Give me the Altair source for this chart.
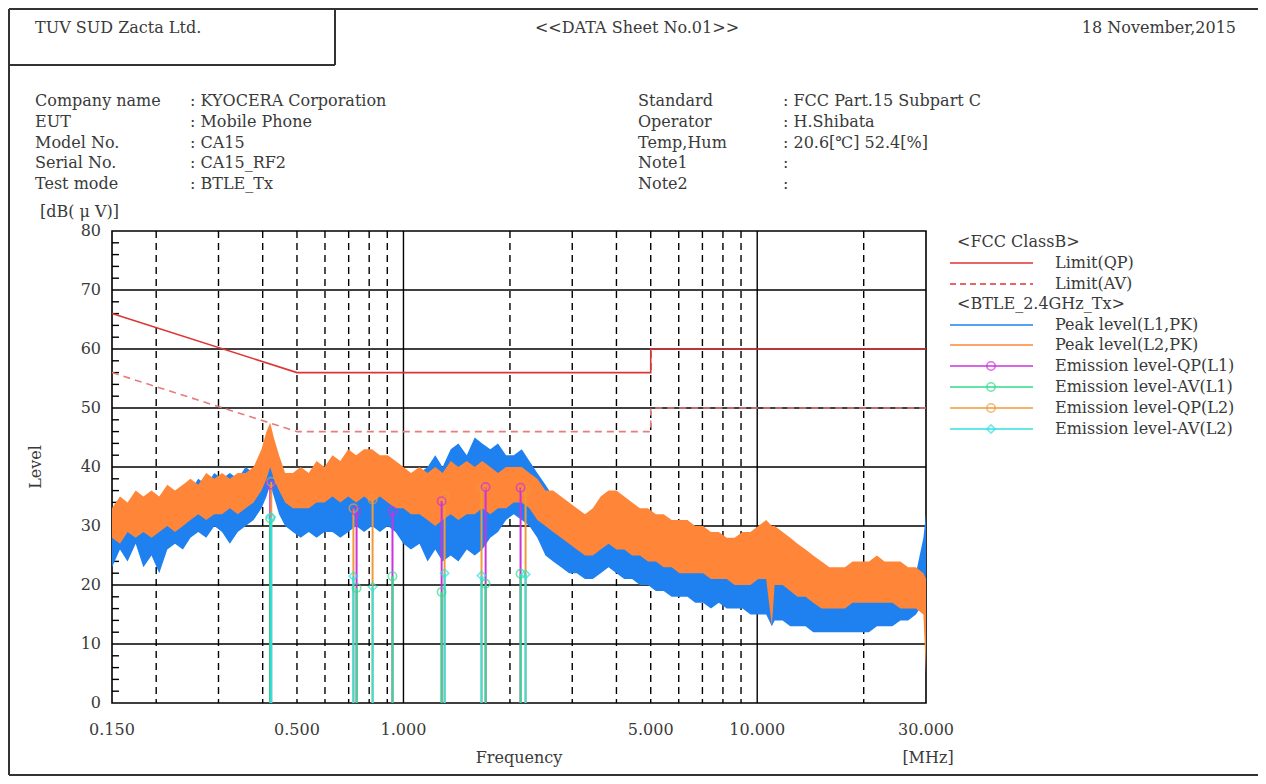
import altair as alt
import pandas as pd

# ---------------- data ----------------
FREQ = [0.150, 0.158, 0.166, 0.175, 0.184, 0.194, 0.204, 0.215, 0.226, 0.238,
        0.250, 0.263, 0.277, 0.292, 0.307, 0.323, 0.340, 0.358, 0.377, 0.397,
        0.410, 0.420, 0.430, 0.445, 0.463, 0.487, 0.512, 0.540, 0.568, 0.598,
        0.630, 0.663, 0.698, 0.735, 0.774, 0.815, 0.858, 0.903, 0.950, 1.00,
        1.05, 1.11, 1.17, 1.23, 1.29, 1.36, 1.43, 1.51, 1.59, 1.67,
        1.76, 1.85, 1.95, 2.05, 2.16, 2.27, 2.39, 2.52, 2.65, 2.79,
        2.94, 3.09, 3.26, 3.43, 3.61, 3.80, 4.00, 4.21, 4.43, 4.66,
        4.91, 5.17, 5.44, 5.73, 6.03, 6.35, 6.68, 7.03, 7.40, 7.79,
        8.20, 8.63, 9.09, 9.57, 10.07, 10.6, 11.0, 11.2, 11.8, 12.4,
        13.0, 13.7, 14.4, 15.2, 16.0, 16.8, 17.7, 18.6, 19.6, 20.7,
        21.8, 22.9, 24.1, 25.4, 26.7, 28.1, 29.5, 30.0]

L1_LOW = [23, 26, 24, 27, 23, 25, 22, 26, 27, 26,
          28, 29, 28, 30, 29, 27, 29, 30, 31, 33,
          35, 37, 35, 32, 30, 29, 28, 29, 28, 29,
          29, 28, 29, 30, 29, 30, 29, 30, 29, 27,
          26, 27, 24, 26, 24, 25, 24, 26, 25, 26,
          28, 29, 31, 32, 31, 30, 28, 25, 24, 23,
          22, 22, 21, 21, 22, 23, 22, 21, 21, 20,
          20, 19, 19, 18, 18, 18, 17, 17, 16, 17,
          16, 16, 16, 15, 15, 15, 13, 14, 14, 13,
          13, 13, 12, 12, 12, 12, 12, 12, 12, 12,
          13, 13, 13, 14, 14, 15, 17, 20]
L1_HIGH = [33, 34, 33, 35, 34, 35, 34, 36, 35, 37,
           36, 38, 37, 39, 38, 39, 38, 40, 39, 41,
           42, 43, 42, 40, 38, 37, 36, 37, 36, 37,
           38, 37, 38, 39, 38, 39, 38, 39, 38, 37,
           38, 39, 40, 42, 40, 43, 44, 42, 45, 44,
           43, 44, 42, 42, 43, 41, 39, 37, 35, 33,
           31, 29, 28, 28, 29, 30, 29, 28, 28, 27,
           27, 26, 26, 25, 25, 24, 24, 24, 23, 24,
           23, 23, 23, 22, 22, 22, 20, 21, 21, 20,
           20, 19, 19, 18, 18, 18, 18, 18, 18, 18,
           18, 18, 19, 19, 19, 22, 28, 32]
L2_LOW = [28, 27, 29, 28, 29, 28, 29, 30, 29, 30,
          31, 32, 31, 32, 32, 33, 32, 33, 34, 36,
          38, 40, 38, 36, 34, 33, 33, 33, 34, 34,
          35, 34, 35, 34, 35, 34, 35, 34, 33, 33,
          32, 32, 31, 30, 31, 32, 31, 32, 32, 33,
          32, 33, 33, 34, 34, 33, 31, 30, 29, 28,
          27, 26, 25, 25, 26, 27, 26, 26, 25, 25,
          24, 24, 23, 23, 22, 22, 22, 22, 21, 21,
          21, 20, 20, 20, 21, 21, 13, 20, 20, 19,
          18, 18, 17, 16, 16, 16, 16, 17, 17, 17,
          17, 17, 17, 16, 16, 16, 15, 5]
L2_HIGH = [33, 35, 34, 36, 35, 36, 35, 37, 36, 37,
           38, 37, 39, 38, 39, 38, 39, 39, 40, 43,
           46, 47.5, 45, 42, 39, 39, 40, 39, 41, 40,
           42, 41, 43, 42, 43, 43, 42, 42, 41, 40,
           39, 40, 39, 40, 39, 41, 40, 41, 40, 41,
           40, 39, 40, 40, 40, 39, 38, 36, 36, 35,
           34, 33, 32, 33, 35, 36, 36, 35, 34, 33,
           33, 32, 32, 31, 31, 31, 30, 30, 29, 29,
           28, 28, 29, 29, 30, 31, 30, 30, 29, 28,
           27, 26, 25, 24, 23, 23, 23, 24, 24, 24,
           25, 24, 24, 24, 23, 23, 22, 21]

LIMIT_F = [0.15, 0.5, 5.0, 5.0, 30.0]
LIMIT_QP = [66, 56, 56, 60, 60]
LIMIT_AV = [56, 46, 46, 50, 50]

QP_L1_F = [0.420, 0.737, 0.931, 1.282, 1.707, 2.143]
QP_L1_V = [37.0, 32.5, 32.5, 34.2, 36.6, 36.5]
AV_L1_F = [0.420, 0.737, 0.931, 1.282, 1.707, 2.143]
AV_L1_V = [31.3, 19.5, 21.5, 18.8, 20.2, 21.9]
QP_L2_F = [0.423, 0.722, 0.818, 1.307, 1.662, 2.214]
QP_L2_V = [37.5, 33.0, 34.5, 35.0, 36.5, 36.0]
AV_L2_F = [0.423, 0.722, 0.818, 1.307, 1.662, 2.214]
AV_L2_V = [31.5, 21.5, 19.7, 22.0, 21.6, 21.8]

X_TICKS = [0.15, 0.5, 1.0, 5.0, 10.0, 30.0]
X_TICK_LABELS = ["0.150", "0.500", "1.000", "5.000", "10.000", "30.000"]
Y_TICKS = [0, 10, 20, 30, 40, 50, 60, 70, 80]
GRID_SOLID_X = [1.0, 10.0]
GRID_DASH_X = [0.2, 0.3, 0.4, 0.5, 0.6, 0.7, 0.8, 0.9,
               2.0, 3.0, 4.0, 5.0, 6.0, 7.0, 8.0, 9.0, 20.0]
GRID_Y = [10, 20, 30, 40, 50, 60, 70]
Y_MINOR = [2, 4, 6, 8, 12, 14, 16, 18, 22, 24, 26, 28, 32, 34, 36, 38,
           42, 44, 46, 48, 52, 54, 56, 58, 62, 64, 66, 68, 72, 74, 76, 78]

INFO_LEFT = [("Company name", ": KYOCERA Corporation"),
             ("EUT", ": Mobile Phone"),
             ("Model No.", ": CA15"),
             ("Serial No.", ": CA15_RF2"),
             ("Test mode", ": BTLE_Tx")]
INFO_RIGHT = [("Standard", ": FCC Part.15 Subpart C"),
              ("Operator", ": H.Shibata"),
              ("Temp,Hum", ": 20.6[\u2103] 52.4[%]"),
              ("Note1", ":"),
              ("Note2", ":")]

# ---------------- styles ----------------
SERIF = "DejaVu Serif"
TXT = "#3a3a3a"
BLUE = "#1f80f0"
ORANGE = "#ff8638"
RED = "#dc3535"
RED_DASH = "#e87c7c"
MAGENTA = "#cc33dd"
GREEN = "#2edd88"
ORANGE_Q = "#f09a3a"
CYAN = "#33e0e0"

X0, Y0 = 112, 231          # page position of the plot origin
W, H = 814, 472

xs = alt.Scale(type="log", domain=[0.15, 30], nice=False)
ys = alt.Scale(domain=[0, 80], nice=False, zero=False)


def X(field):
    return alt.X(field, type="quantitative", scale=xs, axis=None)


def Y(field):
    return alt.Y(field, type="quantitative", scale=ys, axis=None)


ONE = alt.Data(values=[{"a": 1}])


def label(txt, px, py, size=16, align="left", angle=0, color=TXT):
    kw = dict(text=txt, align=align, baseline="middle", fontSize=size,
              font=SERIF, color=color)
    if angle:
        kw["angle"] = angle
    return alt.Chart(ONE).mark_text(**kw).encode(
        x=alt.value(px - X0), y=alt.value(py - Y0))


def hline(px1, px2, py, color="#333", width=2.0, dash=None):
    kw = dict(color=color, strokeWidth=width)
    if dash:
        kw["strokeDash"] = dash
    return alt.Chart(ONE).mark_rule(**kw).encode(
        x=alt.value(px1 - X0), x2=alt.value(px2 - X0), y=alt.value(py - Y0))


def vline(px, py1, py2, color="#333", width=2.0):
    return alt.Chart(ONE).mark_rule(color=color, strokeWidth=width).encode(
        x=alt.value(px - X0), y=alt.value(py1 - Y0), y2=alt.value(py2 - Y0))


def marker(px, py, color, shape="circle"):
    return alt.Chart(ONE).mark_point(shape=shape, filled=False, size=70,
                                     strokeWidth=1.6, color=color).encode(
        x=alt.value(px - X0), y=alt.value(py - Y0))


layers = []

# grid
layers.append(alt.Chart(pd.DataFrame({"f": GRID_DASH_X})).mark_rule(
    color="black", strokeWidth=1.4, strokeDash=[7, 5]).encode(x=X("f")))
layers.append(alt.Chart(pd.DataFrame({"f": GRID_SOLID_X})).mark_rule(
    color="black", strokeWidth=1.4).encode(x=X("f")))
layers.append(alt.Chart(pd.DataFrame({"v": GRID_Y})).mark_rule(
    color="black", strokeWidth=1.4).encode(y=Y("v")))
layers.append(alt.Chart(pd.DataFrame({"v": Y_MINOR})).mark_rule(
    color="black", strokeWidth=1.4).encode(
    y=Y("v"), x=alt.value(0), x2=alt.value(7)))

# spectra
spec = pd.DataFrame({"f": FREQ, "lo1": L1_LOW, "hi1": L1_HIGH,
                     "lo2": L2_LOW, "hi2": L2_HIGH})
layers.append(alt.Chart(spec).mark_area(color=BLUE, opacity=1).encode(
    x=X("f"), y=Y("lo1"), y2="hi1"))
layers.append(alt.Chart(spec).mark_area(color=ORANGE, opacity=1).encode(
    x=X("f"), y=Y("lo2"), y2="hi2"))

# limits
lim = pd.DataFrame({"f": LIMIT_F, "qp": LIMIT_QP, "av": LIMIT_AV,
                    "i": list(range(len(LIMIT_F)))})
layers.append(alt.Chart(lim).mark_line(color=RED, strokeWidth=1.6).encode(
    x=X("f"), y=Y("qp"), order="i:O"))
layers.append(alt.Chart(lim).mark_line(color=RED_DASH, strokeWidth=1.6,
                                       strokeDash=[7, 5]).encode(
    x=X("f"), y=Y("av"), order="i:O"))

# emission markers
def emis(fs, vs):
    return pd.DataFrame({"f": fs, "v": vs, "z": [0] * len(fs)})


for fs, vs, col in [(QP_L1_F, QP_L1_V, MAGENTA), (QP_L2_F, QP_L2_V, ORANGE_Q)]:
    layers.append(alt.Chart(emis(fs, vs)).mark_rule(color=col, strokeWidth=2).encode(
        x=X("f"), y=Y("v"), y2="z"))
for fs, vs, col in [(AV_L1_F, AV_L1_V, GREEN), (AV_L2_F, AV_L2_V, CYAN)]:
    layers.append(alt.Chart(emis(fs, vs)).mark_rule(color=col, strokeWidth=2).encode(
        x=X("f"), y=Y("v"), y2="z"))
for fs, vs, col, shp in [(QP_L2_F, QP_L2_V, ORANGE_Q, "circle"),
                         (QP_L1_F, QP_L1_V, MAGENTA, "circle"),
                         (AV_L1_F, AV_L1_V, GREEN, "circle"),
                         (AV_L2_F, AV_L2_V, CYAN, "diamond")]:
    layers.append(alt.Chart(emis(fs, vs)).mark_point(
        shape=shp, filled=False, size=70, strokeWidth=1.6, color=col).encode(
        x=X("f"), y=Y("v")))

# axis tick labels
layers.append(alt.Chart(pd.DataFrame({"f": X_TICKS, "t": X_TICK_LABELS})).mark_text(
    font=SERIF, fontSize=16, color=TXT, baseline="middle", align="center").encode(
    x=X("f"), y=alt.value(730 - Y0), text="t:N"))
layers.append(alt.Chart(pd.DataFrame({"v": Y_TICKS, "t": [str(v) for v in Y_TICKS]})).mark_text(
    font=SERIF, fontSize=16, color=TXT, baseline="middle", align="right").encode(
    y=Y("v"), x=alt.value(101 - X0), text="t:N"))

# axis titles
layers.append(label("Frequency", 519, 758, align="center"))
layers.append(label("[MHz]", 928, 758, align="center"))
layers.append(label("Level", 36, 467, align="center", angle=270))
layers.append(label("[dB( \u03bc V)]", 40, 212))

# page frame and header box
layers.append(hline(9, 1258, 9))
layers.append(vline(9, 9, 775))
layers.append(hline(9, 1258, 775))
layers.append(vline(335, 9, 65))
layers.append(hline(9, 335, 65))

layers.append(label("TUV SUD Zacta Ltd.", 35, 28))
layers.append(label("<<DATA Sheet No.01>>", 637, 28, align="center"))
layers.append(label("18 November,2015", 1236, 28, align="right"))

ROW_Y = [101, 122, 143, 163, 184]
for (k, v), y in zip(INFO_LEFT, ROW_Y):
    layers.append(label(k, 35, y))
    layers.append(label(v, 190, y))
for (k, v), y in zip(INFO_RIGHT, ROW_Y):
    layers.append(label(k, 638, y))
    layers.append(label(v, 783, y))

# legend
LX1, LX2, LTX, LMX = 950, 1033, 1055, 991
layers.append(label("<FCC ClassB>", 957, 242))
layers.append(hline(LX1, LX2, 263, RED, 1.6))
layers.append(label("Limit(QP)", LTX, 263))
layers.append(hline(LX1, LX2, 284, RED, 1.6, dash=[6, 4]))
layers.append(label("Limit(AV)", LTX, 284))
layers.append(label("<BTLE_2.4GHz_Tx>", 957, 304))
legend_rows = [
    ("Peak level(L1,PK)", BLUE, None, 325),
    ("Peak level(L2,PK)", ORANGE, None, 345),
    ("Emission level-QP(L1)", MAGENTA, "circle", 366),
    ("Emission level-AV(L1)", GREEN, "circle", 387),
    ("Emission level-QP(L2)", ORANGE_Q, "circle", 408),
    ("Emission level-AV(L2)", CYAN, "diamond", 429),
]
for txt, col, shp, y in legend_rows:
    layers.append(hline(LX1, LX2, y, col, 1.6))
    if shp:
        layers.append(marker(LMX, y, col, shp))
    layers.append(label(txt, LTX, y))

chart = alt.layer(*layers).properties(
    width=W, height=H,
    padding={"left": 104, "top": 223, "right": 1250 - 104 - W, "bottom": 768 - 223 - H},
    autosize=alt.AutoSizeParams(type="none"),
).configure_view(stroke="black", strokeWidth=1.6)

chart.save("out.html", embed_options={"renderer": "svg", "actions": False})
